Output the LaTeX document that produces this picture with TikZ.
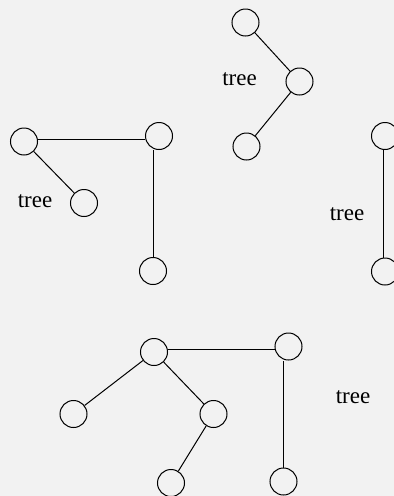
\documentclass[tikz,border=0pt]{standalone}
\usepackage{fontspec}
\setmainfont{Liberation Serif}
\usepackage{tikz}

\begin{document}
\begin{tikzpicture}[x=1pt, y=-1pt, line width=1pt,
  vert/.style={draw, circle, minimum size=27pt, inner sep=0pt},
  lbl/.style={anchor=base, inner sep=0pt, font=\fontsize{23}{28}\selectfont}]
\fill[black!5] (0,0) rectangle (394,496);
\useasboundingbox (0,0) rectangle (394,496);
% top tree
\node[vert] (a1) at (245.5,22.5) {};
\node[vert] (a2) at (299.5,81.5) {};
\node[vert] (a3) at (246.5,146.5) {};
\draw (a1) -- (a2) -- (a3);
\node[lbl] (t1) at (239.5,85) {tree};
% left tree
\node[vert] (b1) at (24,141.5) {};
\node[vert] (b2) at (159,136) {};
\node[vert] (b3) at (84,203) {};
\node[vert] (b4) at (153,271) {};
\draw ([yshift=2.5pt]b1.east) -- ([yshift=2.5pt]b1.east -| b2.west);
\draw (b1) -- (b3);
\draw (b4.north) -- (b4.north |- b2.south);
\node[lbl] (t2) at (35,207.5) {tree};
% right tree, cut at the edge
\node[vert] (c1) at (385,136) {};
\node[vert] (c2) at (385,271.5) {};
\draw ([xshift=-1.5pt]c1.south) -- ([xshift=-1.5pt]c2.north);
\node[lbl] (t3) at (347,220) {tree};
% bottom tree
\node[vert] (d1) at (154,352) {};
\node[vert] (d2) at (288.5,346.5) {};
\node[vert] (d3) at (73.5,414) {};
\node[vert] (d4) at (213.5,414) {};
\node[vert] (d5) at (171,483) {};
\node[vert] (d6) at (283.5,481.5) {};
\draw ([yshift=3pt]d1.east) -- ([yshift=3pt]d1.east -| d2.west);
\draw (d1) -- (d3);
\draw (d1) -- (d4) -- (d5);
\draw (d6.north) -- (d6.north |- d2.south);
\node[lbl] (t4) at (353,403.5) {tree};
\end{tikzpicture}
\end{document}
